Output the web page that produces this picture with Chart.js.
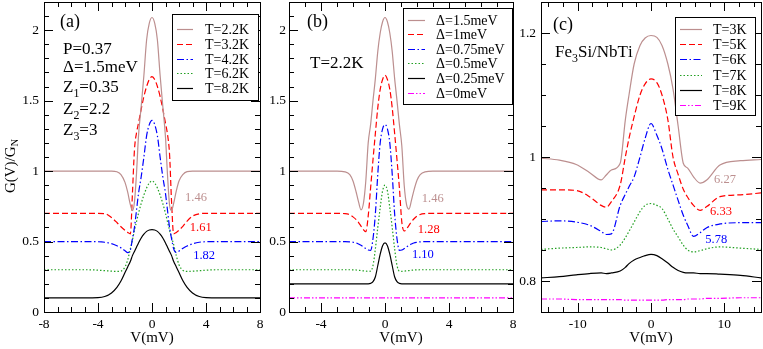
<!DOCTYPE html>
<html>
<head>
<meta charset="utf-8">
<script src="https://cdn.jsdelivr.net/npm/chart.js@4.4.0/dist/chart.umd.min.js"></script>
<style>
  html, body { margin: 0; padding: 0; background: #fff; }
  #wrap { position: relative; width: 763px; height: 349px; }
  #wrap canvas { position: absolute; left: 0; top: 0; }
</style>
</head>
<body>
<div id="wrap">
  <canvas id="panelA" width="763" height="349"></canvas>
  <canvas id="panelB" width="763" height="349"></canvas>
  <canvas id="panelC" width="763" height="349"></canvas>
</div>
<script>
// ---- panel (a): P=0.37, Δ=1.5meV, several temperatures ----
const voltsA = [-8, -5, -4, -3.5, -3, -2.6, -2.3, -2, -1.8, -1.6, -1.45, -1.3, -1.15, -1, -0.8, -0.6, -0.4, -0.2, 0,
  0.2, 0.4, 0.6, 0.8, 1, 1.15, 1.3, 1.45, 1.6, 1.8, 2, 2.3, 2.6, 3, 3.5, 4, 5, 8];
const labelsA = ['T=2.2K', 'T=3.2K', 'T=4.2K', 'T=6.2K', 'T=8.2K'];
const gA22 = [1.0, 1.0, 1.0, 1.0, 1.0, 0.995, 0.975, 0.92, 0.85, 0.76, 0.72, 0.78, 0.98, 1.25, 1.46, 1.68, 1.93, 2.05, 2.09,
  2.05, 1.93, 1.68, 1.46, 1.24, 0.97, 0.76, 0.72, 0.77, 0.86, 0.93, 0.977, 0.996, 1.0, 1.0, 1.0, 1.0, 1.0];
const gA32 = [0.7, 0.7, 0.7, 0.698, 0.67, 0.635, 0.605, 0.58, 0.565, 0.555, 0.84, 1.15, 1.27, 1.34, 1.44, 1.53, 1.6, 1.65, 1.67,
  1.65, 1.6, 1.53, 1.44, 1.34, 1.26, 1.12, 0.78, 0.555, 0.565, 0.58, 0.61, 0.645, 0.68, 0.697, 0.7, 0.7, 0.7];
const gA42 = [0.5, 0.5, 0.499, 0.495, 0.485, 0.47, 0.455, 0.435, 0.422, 0.44, 0.52, 0.6, 0.72, 0.84, 0.96, 1.1, 1.25, 1.33, 1.36,
  1.33, 1.25, 1.1, 0.96, 0.84, 0.72, 0.6, 0.52, 0.45, 0.422, 0.432, 0.452, 0.468, 0.484, 0.495, 0.499, 0.5, 0.5];
const gA62 = [0.3, 0.3, 0.297, 0.293, 0.29, 0.288, 0.29, 0.32, 0.37, 0.45, 0.51, 0.58, 0.64, 0.7, 0.77, 0.83, 0.88, 0.915, 0.93,
  0.915, 0.88, 0.83, 0.77, 0.7, 0.64, 0.58, 0.53, 0.48, 0.4, 0.335, 0.295, 0.288, 0.29, 0.293, 0.297, 0.3, 0.3];
const gA82 = [0.1, 0.1, 0.102, 0.11, 0.135, 0.175, 0.22, 0.28, 0.32, 0.36, 0.4, 0.43, 0.46, 0.49, 0.525, 0.552, 0.572, 0.582, 0.585,
  0.582, 0.572, 0.552, 0.525, 0.49, 0.46, 0.43, 0.4, 0.36, 0.32, 0.28, 0.22, 0.175, 0.135, 0.11, 0.102, 0.1, 0.1];
const notesA = [['1.46', 2.45, 0.81], ['1.61', 2.8, 0.6], ['1.82', 3.05, 0.4]];

// ---- panel (b): T=2.2K, several gaps ----
const voltsB = [-6, -4, -3, -2.5, -2.2, -2, -1.8, -1.65, -1.5, -1.35, -1.2, -1.05, -0.9, -0.75, -0.6, -0.45, -0.3, -0.15, 0,
  0.15, 0.3, 0.45, 0.6, 0.75, 0.9, 1.05, 1.2, 1.35, 1.5, 1.65, 1.8, 2, 2.2, 2.5, 3, 4, 6, 8];
const labelsB = ['Δ=1.5meV', 'Δ=1meV', 'Δ=0.75meV', 'Δ=0.5meV', 'Δ=0.25meV', 'Δ=0meV'];
const gB150 = [1.0, 1.0, 1.0, 0.995, 0.975, 0.93, 0.85, 0.78, 0.725, 0.77, 0.93, 1.2, 1.33, 1.5, 1.66, 1.85, 1.98, 2.06, 2.09,
  2.06, 1.98, 1.85, 1.66, 1.5, 1.33, 1.18, 0.9, 0.76, 0.73, 0.79, 0.86, 0.935, 0.975, 0.995, 1.0, 1.0, 1.0, 1.0];
const gB100 = [0.7, 0.7, 0.7, 0.698, 0.69, 0.675, 0.655, 0.635, 0.61, 0.585, 0.57, 0.68, 0.88, 1.08, 1.27, 1.45, 1.58, 1.65, 1.68,
  1.65, 1.58, 1.45, 1.27, 1.08, 0.88, 0.64, 0.575, 0.59, 0.615, 0.64, 0.66, 0.68, 0.692, 0.698, 0.7, 0.7, 0.7, 0.7];
const gB075 = [0.5, 0.5, 0.5, 0.5, 0.498, 0.495, 0.49, 0.482, 0.473, 0.462, 0.45, 0.44, 0.437, 0.52, 0.7, 0.98, 1.2, 1.3, 1.33,
  1.3, 1.2, 0.98, 0.7, 0.52, 0.437, 0.44, 0.45, 0.462, 0.473, 0.482, 0.49, 0.495, 0.498, 0.5, 0.5, 0.5, 0.5, 0.5];
const gB050 = [0.3, 0.3, 0.3, 0.3, 0.3, 0.299, 0.298, 0.296, 0.294, 0.292, 0.29, 0.289, 0.29, 0.33, 0.45, 0.6, 0.74, 0.86, 0.9,
  0.86, 0.74, 0.6, 0.45, 0.33, 0.29, 0.289, 0.29, 0.292, 0.294, 0.296, 0.298, 0.299, 0.3, 0.3, 0.3, 0.3, 0.3, 0.3];
const gB025 = [0.2, 0.2, 0.2, 0.2, 0.2, 0.2, 0.2, 0.2, 0.2, 0.2, 0.2, 0.2, 0.203, 0.215, 0.25, 0.33, 0.41, 0.47, 0.49,
  0.47, 0.41, 0.33, 0.25, 0.215, 0.203, 0.2, 0.2, 0.2, 0.2, 0.2, 0.2, 0.2, 0.2, 0.2, 0.2, 0.2, 0.2, 0.2];
const voltsB0 = [-6, 8];
const gB000 = [0.1, 0.1];
const notesB = [['1.46', 2.3, 0.805], ['1.28', 2.05, 0.587], ['1.10', 1.68, 0.41]];

// ---- panel (c): Fe3Si/NbTi measured curves ----
const voltsC = [-15, -12.5, -10.2, -8.4, -6.8, -6.1, -5.4, -4.2, -3.5, -3, -2.3, -1.5, -0.8, 0,
  0.8, 1.5, 2.3, 3, 3.7, 4.4, 5, 5.8, 6.7, 7.6, 9.4, 12.2, 15];
const labelsC = ['T=3K', 'T=5K', 'T=6K', 'T=7K', 'T=8K', 'T=9K'];
const gC3 = [0.998, 0.995, 0.988, 0.975, 0.963, 0.971, 0.979, 0.99, 1.06, 1.1, 1.15, 1.18, 1.192, 1.196,
  1.193, 1.18, 1.15, 1.11, 1.05, 0.99, 0.982, 0.968, 0.958, 0.963, 0.987, 0.994, 0.996];
const gC5 = [0.947, 0.947, 0.946, 0.936, 0.922, 0.919, 0.928, 0.955, 1.0, 1.03, 1.065, 1.1, 1.118, 1.126,
  1.12, 1.1, 1.06, 1.0, 0.972, 0.948, 0.935, 0.922, 0.914, 0.92, 0.936, 0.939, 0.942];
const gC6 = [0.896, 0.897, 0.895, 0.89, 0.88, 0.875, 0.876, 0.922, 0.94, 0.952, 0.968, 1.0, 1.03, 1.054,
  1.035, 1.013, 0.98, 0.955, 0.93, 0.906, 0.89, 0.872, 0.878, 0.886, 0.892, 0.894, 0.894];
const gC7 = [0.851, 0.853, 0.854, 0.855, 0.854, 0.852, 0.85, 0.858, 0.87, 0.88, 0.895, 0.912, 0.922, 0.925,
  0.922, 0.917, 0.9, 0.884, 0.871, 0.858, 0.85, 0.847, 0.849, 0.852, 0.855, 0.853, 0.851];
const gC8 = [0.805, 0.807, 0.81, 0.812, 0.813, 0.812, 0.813, 0.816, 0.822, 0.828, 0.834, 0.838, 0.841, 0.843,
  0.841, 0.836, 0.829, 0.822, 0.817, 0.814, 0.813, 0.813, 0.812, 0.812, 0.811, 0.809, 0.805];
const gC9 = [0.771, 0.771, 0.77, 0.77, 0.77, 0.77, 0.77, 0.77, 0.769, 0.769, 0.769, 0.769, 0.769, 0.769,
  0.769, 0.769, 0.77, 0.77, 0.77, 0.77, 0.771, 0.771, 0.771, 0.772, 0.772, 0.773, 0.773];
const notesC = [['6.27', 8.6, 0.963], ['6.33', 8.05, 0.912], ['5.78', 7.4, 0.866]];

// line styles, same order in every panel
const colors = ['#bc8f8f', '#ff0000', '#0000ff', '#22a022', '#000000', '#ff00ff'];
const dashes = [[], [6, 3], [7, 2.5, 1.5, 2.5], [1.5, 2], [], [6, 2, 1.5, 2, 1.5, 2]];
const SERIF = '"Liberation Serif", "DejaVu Serif", serif';

const isMajor = (v, step) => Math.abs(v / step - Math.round(v / step)) < 1e-6;
const fmt = v => String(Math.round(v * 1000) / 1000);

function makeDataset(label, xs, ys, k) {
  return {
    label: label,
    data: xs.map((x, i) => ({ x: x, y: ys[i] })),
    borderColor: colors[k],
    borderDash: dashes[k],
    borderWidth: 1.2,
    pointRadius: 0,
    fill: false,
    cubicInterpolationMode: 'monotone'
  };
}

// draws text where '_' turns the next character into a subscript
function richWidth(ctx, str, size) {
  let w = 0;
  for (let i = 0; i < str.length; i++) {
    let sub = str[i] === '_';
    if (sub) i++;
    ctx.font = (sub ? size * 0.7 : size) + 'px ' + SERIF;
    w += ctx.measureText(str[i]).width;
  }
  return w;
}
function drawRich(ctx, str, x, y, size) {
  let cx = x;
  for (let i = 0; i < str.length; i++) {
    let sub = str[i] === '_';
    if (sub) i++;
    ctx.font = (sub ? size * 0.7 : size) + 'px ' + SERIF;
    ctx.fillText(str[i], cx, sub ? y + size * 0.3 : y);
    cx += ctx.measureText(str[i]).width;
  }
}

// frame with inward ticks on four sides, legend box, annotations
const deco = {
  id: 'deco',
  afterDraw(chart, args, o) {
    const ctx = chart.ctx, a = chart.chartArea;
    const sx = chart.scales.x, sy = chart.scales.y;
    ctx.save();
    ctx.strokeStyle = '#000';
    ctx.fillStyle = '#000';
    ctx.lineWidth = 1;
    ctx.setLineDash([]);
    ctx.strokeRect(a.left + 0.5, a.top + 0.5, a.right - a.left, a.bottom - a.top);

    ctx.beginPath();
    sx.ticks.forEach(t => {
      if (!isMajor(t.value, o.xMinor)) return;
      const p = Math.round(sx.getPixelForValue(t.value)) + 0.5;
      if (p < a.left + 1 || p > a.right - 1) return;
      const len = isMajor(t.value, o.xMajor) ? 9 : 5;
      ctx.moveTo(p, a.bottom); ctx.lineTo(p, a.bottom - len);
      ctx.moveTo(p, a.top); ctx.lineTo(p, a.top + len);
    });
    sy.ticks.forEach(t => {
      if (!isMajor(t.value, o.yMinor)) return;
      const p = Math.round(sy.getPixelForValue(t.value)) + 0.5;
      if (p < a.top + 1 || p > a.bottom - 1) return;
      const len = isMajor(t.value, o.yMajor) ? 9 : 5;
      ctx.moveTo(a.left, p); ctx.lineTo(a.left + len, p);
      ctx.moveTo(a.right, p); ctx.lineTo(a.right - len, p);
    });
    ctx.stroke();

    // legend
    const L = o.legend;
    const bx = a.left + L.x, by = a.top + L.y;
    ctx.fillStyle = '#fff';
    ctx.fillRect(bx, by, L.w, L.h);
    ctx.strokeRect(Math.round(bx) + 0.5, Math.round(by) + 0.5, L.w, L.h);
    ctx.textBaseline = 'middle';
    ctx.textAlign = 'left';
    chart.data.datasets.forEach((ds, i) => {
      const ry = Math.round(by + L.first + i * L.row) + 0.5;
      ctx.strokeStyle = ds.borderColor;
      ctx.lineWidth = ds.borderWidth;
      ctx.setLineDash(ds.borderDash);
      ctx.beginPath();
      ctx.moveTo(bx + L.l0, ry); ctx.lineTo(bx + L.l1, ry);
      ctx.stroke();
      ctx.fillStyle = '#000';
      ctx.font = '14px ' + SERIF;
      ctx.fillText(ds.label, bx + L.tx, ry + 1);
    });
    ctx.setLineDash([]);

    // panel texts
    ctx.textBaseline = 'alphabetic';
    ctx.fillStyle = '#000';
    o.texts.forEach(t => drawRich(ctx, t[0], a.left + t[1], a.top + t[2], t[3]));

    // curve numbers, placed by value
    ctx.textBaseline = 'middle';
    ctx.font = '12.5px ' + SERIF;
    o.notes.forEach((n, i) => {
      ctx.fillStyle = colors[i];
      ctx.fillText(n[0], sx.getPixelForValue(n[1]), sy.getPixelForValue(n[2]));
    });

    // y-axis title with subscript
    if (o.yTitle) {
      ctx.fillStyle = '#000';
      ctx.translate(o.yTitle.x, o.yTitle.y);
      ctx.rotate(-Math.PI / 2);
      const w = richWidth(ctx, o.yTitle.text, 15);
      drawRich(ctx, o.yTitle.text, -w / 2, 0, 15);
    }
    ctx.restore();
  }
};

function makeChart(id, datasets, ax, pad, o) {
  const tickFont = { family: SERIF, size: 13.5 };
  return new Chart(document.getElementById(id), {
    type: 'line',
    data: { datasets: datasets },
    plugins: [deco],
    options: {
      responsive: false,
      animation: false,
      devicePixelRatio: 1,
      layout: { padding: pad },
      plugins: { legend: { display: false }, tooltip: { enabled: false }, deco: o },
      scales: {
        x: {
          type: 'linear', min: ax.xMin, max: ax.xMax,
          grid: { display: false, drawTicks: false }, border: { display: false },
          ticks: {
            stepSize: ax.xStep, autoSkip: false, includeBounds: false, maxRotation: 0,
            padding: 4, color: '#000', font: tickFont,
            callback: v => isMajor(v, o.xMajor) ? fmt(v) : ''
          },
          title: { display: true, text: 'V(mV)', color: '#000', font: { family: SERIF, size: 15 }, padding: 0 },
          afterFit: s => { s.height = 35; s.paddingLeft = 0; s.paddingRight = 0; }
        },
        y: {
          type: 'linear', min: ax.yMin, max: ax.yMax,
          grid: { display: false, drawTicks: false }, border: { display: false },
          ticks: {
            stepSize: ax.yStep, autoSkip: false, includeBounds: false,
            padding: ax.yPad, color: '#000', font: tickFont,
            callback: v => isMajor(v, o.yMajor) ? fmt(v) : ''
          },
          afterFit: s => { s.width = 40; s.paddingTop = 0; s.paddingBottom = 0; }
        }
      }
    }
  });
}

// Configure and create the three panels
let chartA = makeChart('panelA',
  [gA22, gA32, gA42, gA62, gA82].map((ys, k) => makeDataset(labelsA[k], voltsA, ys, k)),
  { xMin: -8, xMax: 8, xStep: 1, yMin: 0, yMax: 2.2, yStep: 0.1, yPad: 5 },
  { left: 4, right: 503, top: 2, bottom: 2 },
  {
    xMajor: 4, xMinor: 1, yMajor: 0.5, yMinor: 0.1,
    legend: { x: 128, y: 12, w: 86, h: 86, first: 15, row: 14.8, l0: 5, l1: 21, tx: 33 },
    texts: [['(a)', 16, 25, 18], ['P=0.37', 19, 52, 17], ['Δ=1.5meV', 19, 70, 17],
      ['Z_1=0.35', 19, 90, 17], ['Z_2=2.2', 19, 112, 17], ['Z_3=3', 19, 133, 17]],
    notes: notesA,
    yTitle: { text: 'G(V)/G_N', x: 11, y: 166 }
  });

let chartB = makeChart('panelB',
  [gB150, gB100, gB075, gB050, gB025].map((ys, k) => makeDataset(labelsB[k], voltsB, ys, k))
    .concat([makeDataset(labelsB[5], voltsB0, gB000, 5)]),
  { xMin: -6, xMax: 8, xStep: 1, yMin: 0, yMax: 2.2, yStep: 0.1, yPad: 3 },
  { left: 249, right: 250, top: 2, bottom: 2 },
  {
    xMajor: 4, xMinor: 1, yMajor: 0.5, yMinor: 0.1,
    legend: { x: 114, y: 6, w: 109, h: 96, first: 11.5, row: 14.66, l0: 5, l1: 22, tx: 33 },
    texts: [['(b)', 18, 25, 18], ['T=2.2K', 21, 66, 17]],
    notes: notesB
  });

let chartC = makeChart('panelC',
  [gC3, gC5, gC6, gC7, gC8, gC9].map((ys, k) => makeDataset(labelsC[k], voltsC, ys, k)),
  { xMin: -15, xMax: 15, xStep: 1, yMin: 0.75, yMax: 1.25, yStep: 0.05, yPad: 5 },
  { left: 501, right: 2, top: 2, bottom: 2 },
  {
    xMajor: 10, xMinor: 2, yMajor: 0.2, yMinor: 0.05,
    legend: { x: 134, y: 15, w: 80, h: 98, first: 12, row: 15.2, l0: 5, l1: 27, tx: 38 },
    texts: [['(c)', 12, 28, 18], ['Fe_3Si/NbTi', 14, 55, 17]],
    notes: notesC
  });
</script>
</body>
</html>
